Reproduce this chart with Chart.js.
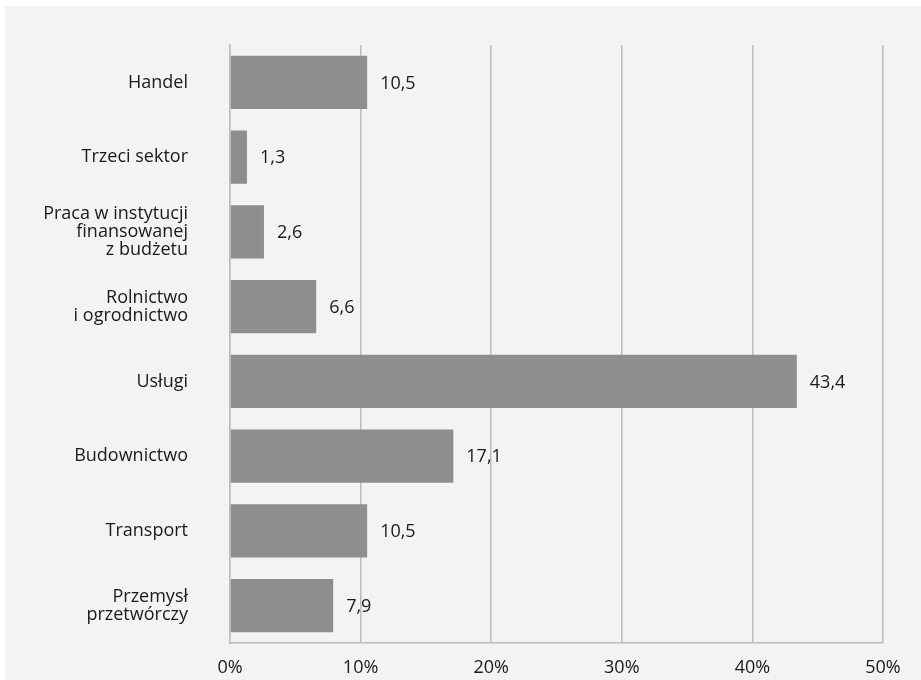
<!DOCTYPE html>
<html lang="pl">
<head>
<meta charset="utf-8">
<title>Sektory zatrudnienia</title>
<script src="https://cdn.jsdelivr.net/npm/chart.js@4/dist/chart.umd.min.js"></script>
<style>
  html, body { margin: 0; padding: 0; background: #ffffff; }
  #wrap { position: relative; width: 921px; height: 680px; }
  canvas { display: block; }
</style>
</head>
<body>
<div id="wrap"><canvas id="chart" width="921" height="680"></canvas></div>
<script>
// Kategorie (od góry do dołu) i udział procentowy
const categories = [
  ['Handel'],
  ['Trzeci sektor'],
  ['Praca w instytucji', 'finansowanej', 'z budżetu'],
  ['Rolnictwo', 'i ogrodnictwo'],
  ['Usługi'],
  ['Budownictwo'],
  ['Transport'],
  ['Przemysł', 'przetwórczy']
];
const shares = [10.5, 1.3, 2.6, 6.6, 43.4, 17.1, 10.5, 7.9];
const axisTicks = [0, 10, 20, 30, 40, 50];

const FONT = '"Open Sans", "Noto Sans", sans-serif';
const TEXT_COLOR = '#1a1a1a';

// Jasnoszare tło panelu wykresu
const panelBackground = {
  id: 'panelBackground',
  beforeDraw(chart) {
    const ctx = chart.ctx;
    ctx.save();
    ctx.fillStyle = '#f3f3f3';
    ctx.fillRect(5, 6, chart.width - 5, chart.height - 6);
    ctx.restore();
  }
};

// Wartości z przecinkiem dziesiętnym obok słupków
const valueLabels = {
  id: 'valueLabels',
  afterDatasetsDraw(chart) {
    const ctx = chart.ctx;
    const meta = chart.getDatasetMeta(0);
    ctx.save();
    ctx.fillStyle = TEXT_COLOR;
    ctx.font = '18px ' + FONT;
    ctx.textAlign = 'left';
    ctx.textBaseline = 'middle';
    meta.data.forEach((bar, i) => {
      const txt = shares[i].toFixed(1).replace('.', ',');
      ctx.fillText(txt, bar.x + 13, bar.y + 1);
    });
    ctx.restore();
  }
};

new Chart(document.getElementById('chart'), {
  type: 'bar',
  data: {
    labels: categories,
    datasets: [{
      data: shares,
      backgroundColor: '#8f8e8c',
      borderWidth: 0,
      barPercentage: 0.71,
      categoryPercentage: 1.0
    }]
  },
  options: {
    indexAxis: 'y',
    responsive: false,
    animation: false,
    devicePixelRatio: 1,
    layout: { padding: { top: 45, right: 38, left: 0, bottom: 0 } },
    plugins: {
      legend: { display: false },
      tooltip: { enabled: false }
    },
    scales: {
      x: {
        min: 0,
        max: 50,
        afterBuildTicks(scale) {
          scale.ticks = axisTicks.map(v => ({ value: v }));
        },
        afterFit(scale) {
          scale.height = 37;
          scale.paddingLeft = 0;
          scale.paddingRight = 0;
        },
        grid: {
          color: '#bcbcbc',
          lineWidth: 1.5,
          drawTicks: false
        },
        border: { display: true, color: '#bcbcbc', width: 1.5 },
        ticks: {
          padding: 14,
          color: TEXT_COLOR,
          font: { family: FONT, size: 18 },
          callback: v => v + '%'
        }
      },
      y: {
        afterFit(scale) {
          scale.width = 230;
          scale.paddingTop = 0;
          scale.paddingBottom = 0;
        },
        grid: { display: false, drawTicks: false },
        border: { display: true, color: '#bcbcbc', width: 1.5 },
        ticks: {
          padding: 42,
          color: TEXT_COLOR,
          font: { family: FONT, size: 18, lineHeight: 1.02 }
        }
      }
    }
  },
  plugins: [panelBackground, valueLabels]
});
</script>
</body>
</html>
